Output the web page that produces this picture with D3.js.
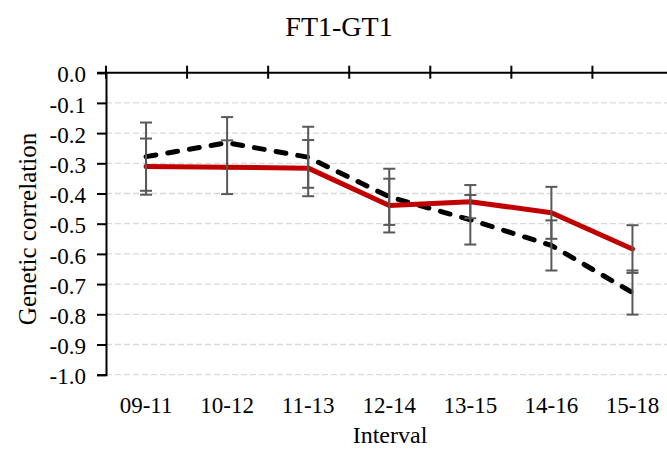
<!DOCTYPE html>
<html>
<head>
<meta charset="utf-8">
<script src="https://cdn.jsdelivr.net/npm/d3@7"></script>
<style>
  body { margin: 0; background: #fff; }
  svg { display: block; font-family: "Liberation Serif", "Times New Roman", serif; }
</style>
</head>
<body>
<div id="chart"></div>
<script>
// Genetic correlation by interval, two series with error bars
const intervals = ['09-11', '10-12', '11-13', '12-14', '13-15', '14-16', '15-18'];
const yTicks = [0, -0.1, -0.2, -0.3, -0.4, -0.5, -0.6, -0.7, -0.8, -0.9, -1.0];

const redValues = [-0.311, -0.313, -0.316, -0.440, -0.427, -0.464, -0.584];
const redErrors = [0.093, 0.089, 0.093, 0.089, 0.055, 0.086, 0.079];

const blackValues = [-0.278, -0.232, -0.280, -0.411, -0.487, -0.572, -0.728];
const blackErrors = [0.113, 0.085, 0.101, 0.093, 0.082, 0.083, 0.073];

const W = 667, H = 449;
const svg = d3.select('#chart').append('svg')
    .attr('width', W)
    .attr('height', H);

const x = d3.scaleBand()
    .domain(intervals)
    .range([105.5, 673]);

const y = d3.scaleLinear()
    .domain([-1, 0])
    .range([374.7, 72.7]);

// gridlines
svg.append('g')
    .selectAll('line')
    .data(yTicks.filter(d => d !== 0))
    .enter()
    .append('line')
    .attr('x1', 106)
    .attr('x2', W)
    .attr('y1', d => y(d))
    .attr('y2', d => y(d))
    .attr('stroke', '#d9d9d9')
    .attr('stroke-width', 1.3)
    .attr('stroke-dasharray', '6,3');

// y axis
const yAxis = svg.append('g')
    .attr('transform', 'translate(106,0)')
    .call(d3.axisLeft(y).tickValues(yTicks).tickFormat(d => d.toFixed(1)).tickSizeOuter(0).tickSize(9).tickPadding(11));
yAxis.select('.domain').attr('stroke', '#000').attr('stroke-width', 2);
yAxis.selectAll('.tick line').attr('stroke', '#000').attr('stroke-width', 2);
yAxis.selectAll('.tick text')
    .attr('dy', '0.4em')
    .style('font-family', '"Liberation Serif", serif')
    .style('font-size', '23px')
    .style('fill', '#000');

// top axis at 0 with category boundary ticks
svg.append('line')
    .attr('x1', 97)
    .attr('x2', W)
    .attr('y1', y(0))
    .attr('y2', y(0))
    .attr('stroke', '#000')
    .attr('stroke-width', 2);

svg.append('g')
    .selectAll('line')
    .data(intervals)
    .enter()
    .append('line')
    .attr('x1', d => x(d) + 0.5)
    .attr('x2', d => x(d) + 0.5)
    .attr('y1', y(0) - 7)
    .attr('y2', y(0) + 6)
    .attr('stroke', '#000')
    .attr('stroke-width', 2);

// category labels
svg.append('g')
    .selectAll('text')
    .data(intervals)
    .enter()
    .append('text')
    .attr('x', d => x(d) + x.bandwidth() / 2)
    .attr('y', 413)
    .attr('text-anchor', 'middle')
    .style('font-size', '23px')
    .text(d => d);

const cx = (d, i) => x(intervals[i]) + x.bandwidth() / 2;

function drawSeries(values, errors, color, dash) {
    const line = d3.line()
        .x((d, i) => cx(d, i))
        .y(d => y(d));

    svg.append('path')
        .datum(values)
        .attr('d', line)
        .attr('fill', 'none')
        .attr('stroke', color)
        .attr('stroke-width', 5)
        .attr('stroke-linejoin', 'round')
        .attr('stroke-linecap', 'round')
        .attr('stroke-dasharray', dash);

    const bars = svg.append('g')
        .attr('stroke', '#595959')
        .attr('stroke-width', 2);

    values.forEach((v, i) => {
        const px = cx(v, i);
        const top = y(v + errors[i]);
        const bot = y(v - errors[i]);
        bars.append('line').attr('x1', px).attr('x2', px).attr('y1', top).attr('y2', bot);
        bars.append('line').attr('x1', px - 6).attr('x2', px + 6).attr('y1', top).attr('y2', top);
        bars.append('line').attr('x1', px - 6).attr('x2', px + 6).attr('y1', bot).attr('y2', bot);
    });
}

drawSeries(blackValues, blackErrors, '#000', '10,12');
drawSeries(redValues, redErrors, '#c00000', null);

// titles
svg.append('text')
    .attr('x', 339)
    .attr('y', 36)
    .attr('text-anchor', 'middle')
    .style('font-size', '28px')
    .text('FT1-GT1');

svg.append('text')
    .attr('x', 390)
    .attr('y', 443)
    .attr('text-anchor', 'middle')
    .style('font-size', '24px')
    .text('Interval');

svg.append('text')
    .attr('transform', 'translate(36,229) rotate(-90)')
    .attr('text-anchor', 'middle')
    .style('font-size', '25px')
    .text('Genetic correlation');
</script>
</body>
</html>
